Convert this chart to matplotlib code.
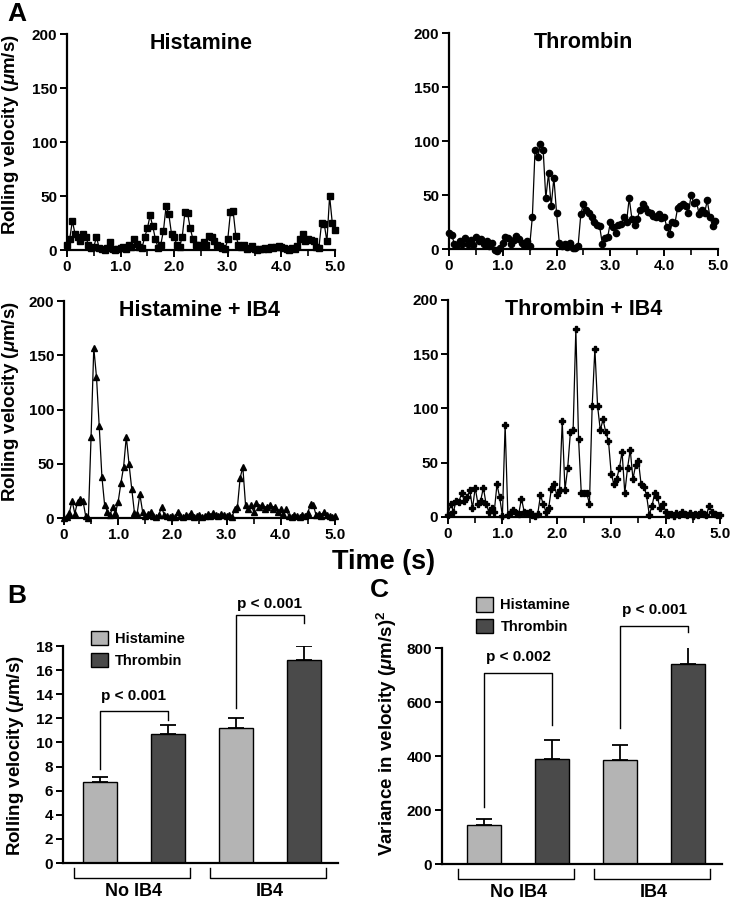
import numpy as np
import matplotlib
matplotlib.use("Agg")
import matplotlib.pyplot as plt
from matplotlib.ticker import MultipleLocator

# ---- Panel A: rolling velocity traces, sampled every 0.05 s ----
STEP = 0.05

histamine = [5, 10, 27, 15, 12, 8, 15, 12, 5, 2,
             3, 12, 2, 1, 0, 2, 7, 1, 0, 1,
             2, 3, 1, 5, 3, 10, 6, 3, 2, 12,
             20, 32, 22, 10, 2, 5, 18, 41, 33, 15,
             12, 5, 3, 12, 35, 34, 20, 10, 5, 5,
             4, 7, 5, 13, 12, 8, 5, 4, 2, 1,
             10, 35, 36, 13, 5, 3, 5, 1, 2, 4,
             1, 0, 1, 1, 2, 1, 3, 2, 3, 4,
             3, 2, 1, 0, 2, 1, 4, 10, 15, 8,
             10, 9, 8, 3, 2, 25, 24, 8, 50, 25, 19]

thrombin = [15, 13, 5, 4, 7, 5, 10, 5, 8, 4,
            11, 7, 9, 5, 7, 3, 6, -1, -2, 1,
            6, 11, 10, 5, 8, 12, 9, 6, 4, 7,
            3, 30, 92, 85, 97, 92, 47, 70, 40, 66,
            33, 6, 3, 5, 2, 6, 1, 1, 3, 32,
            42, 36, 33, 30, 25, 22, 21, 5, 10, 11,
            25, 20, 15, 22, 23, 30, 25, 47, 28, 22,
            28, 36, 42, 38, 34, 33, 31, 30, 32, 29,
            30, 20, 14, 25, 24, 38, 40, 42, 40, 33,
            50, 43, 44, 32, 36, 33, 45, 30, 21, 26]

histamine_ib4 = [0, 1, 5, 16, 4, 15, 18, 16, 2, 0,
                 75, 157, 130, 85, 38, 12, 6, 3, 10, 5,
                 15, 32, 47, 75, 50, 27, 5, 4, 22, 6,
                 2, 4, 6, 2, 1, 3, 10, 3, 2, 1,
                 2, 1, 6, 2, 1, 3, 2, 5, 1, 2,
                 3, 1, 2, 4, 2, 5, 3, 2, 4, 3,
                 2, 3, 1, 8, 10, 37, 47, 12, 8, 12,
                 6, 14, 10, 12, 8, 10, 12, 8, 10, 6,
                 8, 4, 8, 2, 1, 3, 2, 1, 3, 2,
                 5, 13, 12, 3, 4, 2, 6, 3, 2, 1, 2]

thrombin_ib4 = [2, 12, 5, 15, 14, 22, 15, 18, 25, 8,
                27, 12, 15, 27, 12, 5, 8, 5, 30, 18,
                1, 85, 2, 5, 6, 4, 3, 17, 5, 4,
                5, 2, 1, 3, 20, 12, 5, 8, 26, 30,
                20, 25, 88, 25, 45, 78, 80, 173, 72, 22,
                22, 22, 12, 102, 155, 102, 80, 90, 78, 70,
                40, 30, 35, 45, 60, 22, 45, 62, 35, 48,
                52, 30, 28, 20, 2, 10, 22, 18, 8, 12,
                5, 2, 3, 1, 4, 2, 5, 3, 2, 4,
                1, 3, 2, 5, 3, 2, 10, 5, 3, 2, 2]

trace_titles = ["Histamine", "Thrombin", "Histamine + IB4", "Thrombin + IB4"]
trace_xticks = [0, 1, 2, 3, 4, 5]
trace_xlabels = ["0", "1.0", "2.0", "3.0", "4.0", "5.0"]
trace_yticks = [0, 50, 100, 150, 200]

# ---- Panels B and C: means with upward error bars ----
groups = ["No IB4", "IB4"]
series = ["Histamine", "Thrombin"]
velocity_mean = [6.7, 10.7, 11.2, 16.85]
velocity_err = [0.45, 0.75, 0.85, 1.15]
variance_mean = [145, 388, 387, 740]
variance_err = [20, 72, 53, 82]
velocity_p = ["p < 0.001", "p < 0.001"]
variance_p = ["p < 0.002", "p < 0.001"]

LIGHT = "#b4b4b4"
DARK = "#4a4a4a"

plt.rcParams['font.family'] = ['Liberation Sans', 'DejaVu Sans']
plt.rcParams['font.weight'] = 'bold'
plt.rcParams['axes.labelweight'] = 'bold'
plt.rcParams['mathtext.fontset'] = 'custom'
plt.rcParams['mathtext.rm'] = 'Liberation Sans:bold'
plt.rcParams['mathtext.it'] = 'Liberation Sans:italic:bold'
plt.rcParams['mathtext.bf'] = 'Liberation Sans:bold'

fig = plt.figure(figsize=(7.37, 9.0), dpi=100)


def style_axes(ax, tick_size):
  """Left and bottom spines only, thick, outward ticks"""
  for side in ("top", "right"):
    ax.spines[side].set_visible(False)
  for side in ("left", "bottom"):
    ax.spines[side].set_linewidth(1.6)
  ax.tick_params(axis="both", which="major", direction="out", length=5, width=1.4,
                 labelsize=tick_size, pad=2)


def trace_panel(rect, values, marker, ms, title, ylabel_x=None):
  """One rolling velocity trace against time"""
  ax = fig.add_axes(rect)
  time = np.arange(len(values)) * STEP
  ax.plot(time, values, color="black", lw=0.9, marker=marker, ms=ms,
          mec="black", mfc="black", clip_on=False, zorder=3)
  ax.set_xlim(0, 5)
  ax.set_ylim(0, 200)
  ax.set_xticks(trace_xticks)
  ax.set_xticklabels(trace_xlabels)
  ax.xaxis.set_minor_locator(MultipleLocator(0.5))
  ax.tick_params(axis="x", which="minor", direction="out", length=4, width=1.2)
  ax.set_yticks(trace_yticks)
  style_axes(ax, 11)
  ax.text(0.5, 0.955, title, transform=ax.transAxes, ha="center", va="center",
          fontsize=15.5, fontweight="bold")
  if ylabel_x is not None:
    ax.set_ylabel(r"Rolling velocity ($\mu$m/s)", fontsize=13.5)
    ax.yaxis.set_label_coords(ylabel_x, 0.535)
  return ax


def bar_panel(rect, means, errs, pvals, p_layout, ylim, step, ylabel, label_xy,
              legend_xy):
  """Grouped bars with brackets for the p-values and the group labels"""
  ax = fig.add_axes(rect)
  xs = np.arange(len(means))
  colors = [LIGHT, DARK] * len(groups)
  bars = ax.bar(xs, means, width=0.5, color=colors, edgecolor="black", lw=1.0,
                zorder=2)
  ax.errorbar(xs, means, yerr=[np.zeros(len(errs)), errs], fmt="none",
              ecolor="black", elinewidth=1.3, capsize=6, capthick=1.3, zorder=1)
  ax.set_xlim(label_xy[2], 3.5)
  ax.set_ylim(0, ylim)
  ax.set_yticks(np.arange(0, ylim + step / 2, step))
  ax.set_xticks([])
  style_axes(ax, 11)
  ax.set_ylabel(ylabel, fontsize=13.5)
  ax.yaxis.set_label_coords(label_xy[0], label_xy[1])

  # significance brackets (legs sit on the bar centres)
  for g, (left_y, top_y, right_y, text_y) in enumerate(p_layout):
    a, b = 2 * g, 2 * g + 1
    ax.plot([a, a, b, b], [left_y, top_y, top_y, right_y], color="black", lw=1.0,
            clip_on=False)
    ax.text((a + b) / 2, text_y, pvals[g], ha="center", va="bottom",
            fontsize=11, fontweight="bold")

  # group brackets under the axis
  trans = ax.get_xaxis_transform()
  for g, name in enumerate(groups):
    a, b = 2 * g - 0.38, 2 * g + 1.32
    ax.plot([a, a, b, b], [-0.022, -0.068, -0.068, -0.022], color="black",
            lw=1.0, transform=trans, clip_on=False)
    ax.text(2 * g + 0.5, -0.13, name, transform=trans, ha="center", va="center",
            fontsize=13, fontweight="bold")

  ax.legend([bars[0], bars[1]], series, loc="upper left",
            bbox_to_anchor=legend_xy, frameon=False, borderpad=0,
            borderaxespad=0, handlelength=1.2, handleheight=1.15,
            handletextpad=0.5, labelspacing=0.45, fontsize=10.5)
  return ax


trace_panel([0.0909, 0.7222, 0.3636, 0.24], histamine, "s", 4.0, trace_titles[0], -0.17)
trace_panel([0.6092, 0.7233, 0.3650, 0.24], thrombin, "o", 4.5, trace_titles[1])
trace_panel([0.0868, 0.4244, 0.3677, 0.2411], histamine_ib4, "^", 5.0, trace_titles[2], -0.158)
trace_panel([0.6079, 0.4256, 0.3690, 0.2411], thrombin_ib4, "P", 5.0, trace_titles[3])

fig.text(0.521, 0.376, "Time (s)", ha="center", va="center", fontsize=19.5,
         fontweight="bold")

bar_panel([0.0855, 0.0411, 0.3731, 0.2411], velocity_mean, velocity_err, velocity_p,
          [(7.8, 12.6, 11.85, 13.3), (12.85, 20.6, 19.9, 20.9)], 18, 2,
          r"Rolling velocity ($\mu$m/s)", (-0.136, 0.493, -0.54), (0.10, 1.07))
bar_panel([0.5997, 0.0400, 0.3800, 0.2400], variance_mean, variance_err, variance_p,
          [(211, 707, 515, 740), (504, 881, 860, 915)], 800, 200,
          r"Variance in velocity ($\mu$m/s)$^2$", (-0.152, 0.606, -0.62), (0.12, 1.235))

# panel letters
fig.text(0.010, 0.984, "A", fontsize=19, fontweight="bold", va="center")
fig.text(0.010, 0.338, "B", fontsize=19, fontweight="bold", va="center")
fig.text(0.502, 0.344, "C", fontsize=19, fontweight="bold", va="center")

fig.savefig("out.png", dpi=100)
